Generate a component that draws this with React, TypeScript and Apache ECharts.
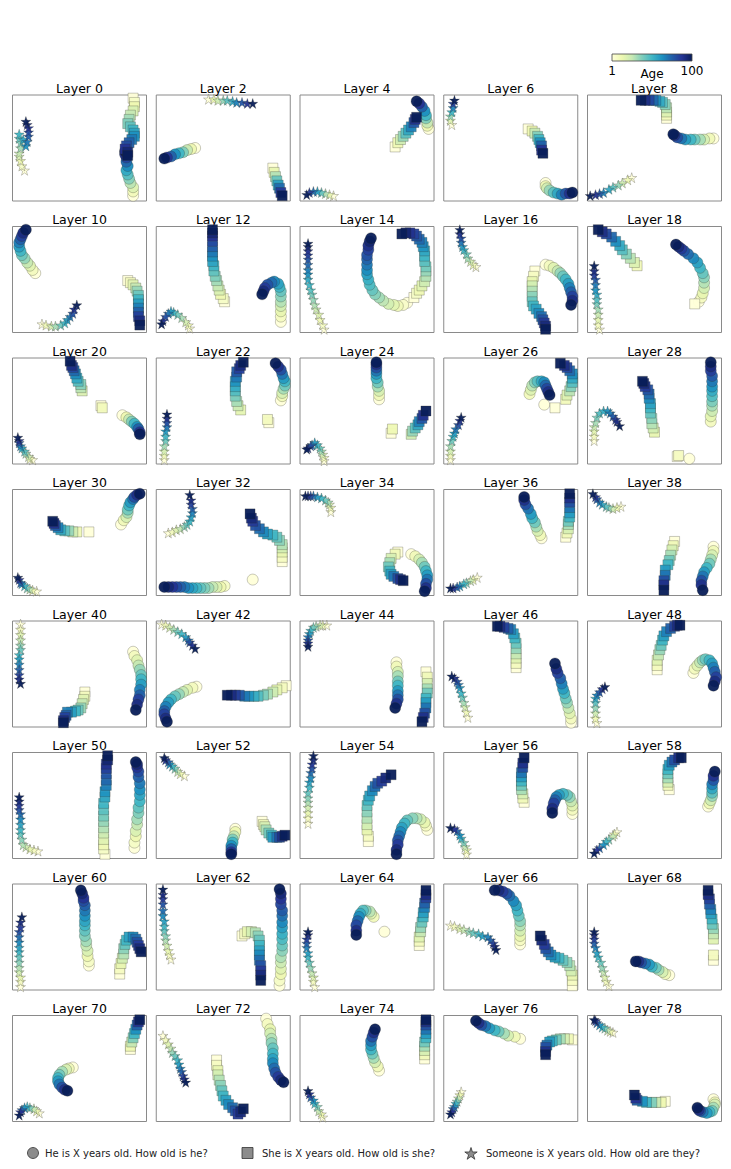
import React, { useEffect, useRef } from "react";
import * as echarts from "echarts";

type XY = [number, number];

const LAYERS = [0, 2, 4, 6, 8, 10, 12, 14, 16, 18, 20, 22, 24, 26, 28, 30, 32, 34, 36, 38,
  40, 42, 44, 46, 48, 50, 52, 54, 56, 58, 60, 62, 64, 66, 68, 70, 72, 74, 76, 78];

// Ages (1..100) of the points of a trajectory, listed for each trajectory length; points go from age 1 to age 100.
const AGE_TABLES: Record<number, number[]> = {
  5: [1, 26, 51, 75, 100],
  6: [1, 21, 41, 60, 80, 100],
  7: [1, 18, 34, 51, 67, 84, 100],
  8: [1, 15, 29, 43, 58, 72, 86, 100],
  9: [1, 13, 26, 38, 51, 63, 75, 88, 100],
  10: [1, 12, 23, 34, 45, 56, 67, 78, 89, 100],
  11: [1, 11, 21, 31, 41, 51, 60, 70, 80, 90, 100],
  12: [1, 10, 19, 28, 37, 46, 55, 64, 73, 82, 91, 100],
  13: [1, 9, 18, 26, 34, 42, 51, 59, 67, 75, 84, 92, 100],
  14: [1, 9, 16, 24, 31, 39, 47, 54, 62, 69, 77, 85, 92, 100],
  15: [1, 8, 15, 22, 29, 36, 43, 51, 58, 65, 72, 79, 86, 93, 100],
  16: [1, 8, 14, 21, 27, 34, 41, 47, 54, 60, 67, 74, 80, 87, 93, 100],
  17: [1, 7, 13, 20, 26, 32, 38, 44, 51, 57, 63, 69, 75, 81, 88, 94, 100],
  18: [1, 7, 13, 18, 24, 30, 36, 42, 48, 53, 59, 65, 71, 77, 83, 88, 94, 100],
  19: [1, 7, 12, 18, 23, 29, 34, 40, 45, 51, 56, 62, 67, 73, 78, 84, 89, 95, 100],
  20: [1, 6, 11, 17, 22, 27, 32, 37, 43, 48, 53, 58, 64, 69, 74, 79, 84, 90, 95, 100],
  21: [1, 6, 11, 16, 21, 26, 31, 36, 41, 46, 51, 55, 60, 65, 70, 75, 80, 85, 90, 95, 100],
  22: [1, 6, 10, 15, 20, 25, 29, 34, 39, 43, 48, 53, 58, 62, 67, 72, 76, 81, 86, 91, 95, 100],
  23: [1, 6, 10, 15, 19, 24, 28, 33, 37, 42, 46, 51, 55, 60, 64, 69, 73, 78, 82, 87, 91, 96, 100],
  24: [1, 5, 10, 14, 18, 23, 27, 31, 35, 40, 44, 48, 53, 57, 61, 66, 70, 74, 78, 83, 87, 91, 96, 100],
};

// "He is X years old. How old is he?"  (points from age 1 to age 100)
const CIRCLE_PATHS: XY[][] = [
  [[90,5],[90,9],[90,13],[88,17],[87,21],[86,25],[85,29],[86,33],[85,37],[85,41],[84,44],[84,47]],
  [[29,50],[26,49],[23,48],[20,46],[17,45],[14,44],[11,42],[8,41],[6,40]],
  [[96,68],[95,71],[95,74],[94,78],[94,81],[93,85],[91,89],[89,92],[87,94]],
  [[76,17],[76,14],[77,12],[79,10],[82,8],[85,7],[88,6],[91,7],[94,7],[96,8]],
  [[94,59],[91,59],[87,58],[84,58],[80,58],[77,58],[73,58],[70,59],[67,60],[65,62],[64,63]],
  [[17,56],[15,59],[13,63],[11,66],[9,70],[7,73],[6,77],[5,81],[5,85],[6,88],[7,91],[8,94],[10,97]],
  [[93,10],[93,15],[93,20],[93,25],[93,29],[93,34],[93,39],[92,43],[91,46],[88,48],[86,47],[83,45],[81,42],[80,39],[79,36]],
  [[80,28],[77,26],[73,25],[70,26],[66,27],[62,30],[59,33],[56,36],[54,40],[52,45],[51,50],[50,55],[50,59],[50,64],[50,69],[50,73],[51,78],[51,82],[52,86],[53,89]],
  [[76,64],[79,63],[82,61],[85,58],[87,56],[89,53],[91,50],[93,46],[94,42],[95,38],[96,34],[96,30],[95,26]],
  [[83,29],[85,33],[86,37],[87,42],[87,47],[87,52],[86,56],[84,61],[82,66],[79,70],[75,74],[72,77],[70,79],[68,81],[66,83]],
  [[82,46],[85,44],[87,42],[89,40],[91,38],[93,35],[94,33],[95,30],[95,28]],
  [[93,60],[94,64],[94,67],[95,71],[96,74],[96,78],[95,81],[94,85],[93,89],[91,92],[89,95]],
  [[59,61],[59,65],[59,69],[58,73],[58,77],[57,81],[57,85],[57,88],[57,91],[57,94],[57,96]],
  [[75,56],[64,66],[65,70],[66,74],[68,77],[70,78],[73,78],[75,77],[76,74],[77,71],[78,68],[79,65]],
  [[76,5],[92,40],[92,45],[93,50],[93,55],[93,59],[93,64],[93,69],[93,73],[93,78],[93,83],[92,88],[92,92],[92,96]],
  [[81,67],[83,71],[85,74],[86,78],[86,81],[87,85],[88,88],[90,91],[91,93],[93,95],[95,96]],
  [[72,15],[51,9],[48,8],[45,8],[42,8],[39,7],[36,7],[33,7],[30,7],[27,7],[24,7],[21,8],[18,8],[15,8],[12,8],[9,8],[6,8]],
  [[83,39],[86,37],[89,34],[91,31],[93,27],[94,23],[95,19],[95,15],[94,11],[94,7],[93,4]],
  [[73,54],[72,57],[70,61],[69,65],[68,69],[66,73],[65,77],[63,82],[61,86],[60,90],[60,93]],
  [[94,46],[94,42],[93,38],[92,34],[91,30],[89,26],[87,22],[86,18],[85,14],[85,10],[86,5]],
  [[90,71],[91,67],[93,63],[94,58],[95,54],[96,49],[96,45],[96,40],[95,35],[95,30],[94,26],[93,21],[92,16]],
  [[30,38],[27,37],[23,35],[20,33],[17,31],[14,29],[11,26],[9,23],[7,19],[6,15],[6,12],[7,8],[8,5]],
  [[72,61],[72,57],[73,52],[73,48],[73,43],[73,39],[73,34],[73,30],[73,26],[72,22],[71,18]],
  [[95,4],[95,8],[94,13],[93,18],[92,23],[91,27],[90,32],[89,36],[88,41],[87,46],[85,51],[84,55],[83,60]],
  [[79,51],[80,55],[82,58],[84,61],[86,63],[88,64],[91,63],[93,60],[94,56],[95,52],[96,47],[95,43],[94,39]],
  [[91,10],[91,15],[92,21],[92,26],[93,32],[93,37],[94,43],[94,48],[95,54],[95,60],[95,65],[95,71],[94,77],[94,82],[93,86],[93,89],[92,91]],
  [[59,28],[59,25],[58,21],[57,18],[57,15],[56,12],[56,9],[56,6],[56,4]],
  [[95,27],[94,31],[93,34],[90,37],[87,38],[84,38],[80,36],[78,33],[76,29],[75,25],[74,21],[73,17],[73,13],[72,8],[72,4]],
  [[96,42],[96,46],[96,50],[95,54],[94,58],[92,60],[89,61],[86,60],[84,58],[83,55],[82,52],[81,47],[81,43]],
  [[90,49],[91,52],[92,55],[93,59],[93,62],[93,66],[93,70],[94,74],[94,78],[95,82]],
  [[57,23],[57,27],[56,32],[56,37],[55,42],[55,46],[54,51],[54,56],[54,61],[54,65],[54,70],[54,75],[54,80],[53,84],[53,87],[52,91],[51,94]],
  [[92,4],[92,9],[93,15],[93,20],[93,26],[93,31],[94,37],[94,42],[94,48],[94,53],[94,59],[94,64],[94,70],[94,75],[93,81],[93,86],[93,91],[92,95]],
  [[63,55],[55,69],[53,72],[52,74],[49,75],[47,75],[45,72],[44,69],[43,65],[42,61],[42,56],[42,52]],
  [[57,43],[57,47],[57,51],[57,56],[57,61],[57,65],[56,70],[55,75],[54,80],[52,84],[49,89],[47,91],[44,93],[41,94],[38,94]],
  [[61,14],[58,15],[56,17],[53,19],[51,21],[48,22],[46,24],[43,25],[40,26],[38,27],[36,27]],
  [[45,51],[42,50],[40,49],[37,47],[35,44],[34,41],[34,38],[35,35],[37,32],[39,30],[41,29]],
  [[82,97],[83,92],[85,87],[85,83],[86,78],[86,74],[87,69],[87,64],[87,59],[87,55],[88,50],[89,46],[91,42],[93,39],[95,37]],
  [[59,48],[58,52],[56,56],[55,60],[54,64],[53,68],[53,72],[53,76],[54,80],[55,84],[56,87]],
  [[57,78],[53,80],[48,81],[45,83],[41,85],[38,86],[34,88],[31,90],[28,91],[26,93],[24,95]],
  [[94,21],[95,18],[95,16],[94,13],[93,10],[91,9],[89,8],[86,9],[84,10],[83,11],[82,13]],
];

// "She is X years old. How old is she?"
const SQUARE_PATHS: XY[][] = [
  [[90,97],[91,93],[91,89],[90,85],[88,81],[87,77],[86,73],[88,70],[90,67],[91,64],[91,61],[89,58],[87,55],[85,52],[84,49],[86,46],[86,43]],
  [[87,31],[88,27],[89,23],[90,19],[91,15],[92,12],[93,8],[94,5]],
  [[71,51],[73,55],[75,58],[77,61],[79,64],[81,67],[83,70],[85,74],[86,77],[87,79]],
  [[63,68],[66,66],[68,64],[70,61],[71,58],[72,55],[73,52],[73,48],[74,45]],
  [[59,78],[59,81],[59,84],[59,88],[58,91],[56,93],[54,94],[51,95],[49,95],[46,95],[43,95],[40,95]],
  [[86,49],[88,47],[90,45],[92,42],[93,39],[94,35],[94,31],[94,27],[94,23],[94,19],[94,15],[95,11],[95,7]],
  [[51,29],[50,32],[48,36],[47,40],[46,44],[45,49],[44,53],[43,58],[43,63],[42,67],[42,72],[42,76],[42,81],[42,86],[42,91],[42,94],[42,97]],
  [[85,33],[87,37],[89,40],[91,44],[93,48],[94,53],[94,58],[94,62],[93,67],[93,72],[93,77],[92,81],[91,85],[89,88],[87,91],[85,93],[82,94],[79,94],[76,93]],
  [[68,58],[67,53],[66,48],[66,44],[66,39],[66,34],[66,29],[67,25],[69,22],[71,18],[73,15],[74,12],[75,9],[76,6],[76,3]],
  [[80,27],[37,63],[35,66],[32,70],[29,74],[26,78],[24,82],[21,86],[18,90],[14,93],[11,95],[8,97]],
  [[66,55],[67,53],[52,69],[51,72],[51,75],[49,78],[48,81],[47,85],[46,88],[45,91],[44,93],[43,97]],
  [[84,39],[83,42],[63,51],[61,55],[60,59],[59,64],[59,69],[59,73],[59,78],[60,82],[60,87],[62,90],[63,93],[65,96]],
  [[68,29],[69,33],[83,28],[84,31],[86,34],[88,37],[89,40],[91,43],[92,46],[94,50]],
  [[83,53],[91,61],[92,65],[94,69],[95,73],[96,77],[96,81],[96,85],[94,88],[92,91],[90,93],[87,95]],
  [[67,7],[68,8],[50,30],[49,34],[48,38],[48,43],[47,48],[47,53],[47,57],[46,62],[46,66],[45,70],[43,73],[42,76],[41,78]],
  [[57,60],[48,60],[45,60],[42,61],[39,61],[36,62],[34,64],[32,66],[31,68],[30,70]],
  [[94,32],[94,36],[94,41],[94,45],[94,48],[92,52],[90,55],[87,57],[83,58],[80,60],[77,63],[74,66],[72,70],[71,73],[70,77]],
  [[73,41],[71,39],[68,35],[67,31],[66,27],[67,23],[68,20],[70,18],[73,16],[75,15],[77,14]],
  [[91,55],[92,59],[93,63],[93,67],[93,70],[94,74],[94,78],[94,83],[94,88],[94,92],[94,96]],
  [[65,51],[64,47],[63,43],[62,38],[61,33],[60,29],[58,24],[58,19],[57,14],[57,10],[57,5]],
  [[54,33],[54,29],[53,26],[52,22],[51,18],[49,16],[47,15],[44,14],[41,14],[40,11],[39,9],[38,6],[38,4]],
  [[97,39],[94,37],[90,35],[87,33],[83,31],[80,30],[76,29],[73,29],[69,29],[66,29],[62,30],[59,30],[56,30],[53,30]],
  [[94,52],[95,47],[95,41],[95,36],[95,32],[94,27],[94,23],[94,18],[93,13],[92,9],[91,5]],
  [[54,56],[54,60],[54,65],[54,69],[54,74],[54,79],[53,84],[52,88],[50,92],[48,93],[45,94],[42,95],[40,95]],
  [[52,54],[52,58],[52,63],[53,68],[54,73],[55,77],[56,82],[57,86],[59,90],[62,93],[65,95],[67,96],[69,96]],
  [[69,4],[68,9],[68,13],[68,18],[68,24],[68,29],[68,35],[68,40],[68,46],[68,52],[69,58],[69,63],[70,69],[70,74],[70,80],[70,85],[70,89],[71,93],[71,97]],
  [[79,35],[80,32],[81,30],[82,27],[84,24],[86,22],[87,20],[90,20],[92,20],[94,21],[96,22]],
  [[51,16],[51,21],[50,27],[50,32],[50,38],[50,44],[50,50],[51,55],[52,59],[54,64],[56,68],[58,71],[61,73],[64,76],[68,79]],
  [[60,53],[59,57],[59,61],[58,65],[58,69],[58,73],[58,77],[58,81],[59,86],[59,90],[60,95]],
  [[61,65],[60,69],[60,72],[60,76],[60,80],[60,84],[61,88],[63,91],[65,93],[68,95],[70,95]],
  [[80,15],[80,20],[81,25],[82,30],[83,34],[83,39],[84,43],[85,47],[87,50],[90,50],[92,48],[93,45],[94,42],[95,39],[96,36]],
  [[64,51],[66,53],[68,55],[71,55],[74,54],[76,51],[77,47],[77,42],[77,37],[77,33],[77,28],[78,23],[78,18],[78,14],[78,9]],
  [[89,42],[89,46],[89,50],[90,55],[90,59],[91,64],[92,69],[92,73],[93,78],[93,82],[94,87],[94,90],[94,94]],
  [[96,4],[96,9],[96,14],[95,18],[94,23],[92,26],[89,28],[86,30],[83,31],[80,33],[78,36],[76,39],[75,43],[73,47],[72,51]],
  [[94,28],[94,33],[94,48],[94,53],[94,58],[93,62],[93,67],[92,72],[92,76],[91,81],[91,86],[90,90],[90,94]],
  [[88,68],[88,71],[89,75],[90,79],[91,83],[92,87],[93,91],[94,94],[95,96]],
  [[45,58],[45,53],[46,48],[46,44],[47,39],[48,34],[49,29],[50,24],[52,20],[54,16],[57,13],[59,10],[61,7],[63,9],[65,12]],
  [[93,59],[93,63],[93,67],[93,71],[93,75],[94,79],[94,83],[94,87],[94,91],[94,94],[94,96]],
  [[96,77],[93,78],[90,78],[87,78],[84,77],[81,76],[79,75],[77,72],[76,70],[76,66],[76,63]],
  [[58,19],[55,18],[51,18],[48,18],[44,18],[41,19],[37,20],[36,22],[35,25]],
];

// "Someone is X years old. How old are they?"
const STAR_PATHS: XY[][] = [
  [[9,29],[7,33],[6,38],[5,42],[5,45],[6,50],[6,55],[5,59],[5,63],[8,58],[10,52],[11,56],[12,61],[12,65],[12,69],[11,72],[10,75]],
  [[39,96],[43,96],[46,95],[50,95],[53,95],[57,94],[60,93],[64,93],[68,92],[72,92]],
  [[25,5],[22,6],[19,7],[16,8],[13,9],[10,9],[7,8],[5,6]],
  [[6,72],[5,76],[5,80],[6,84],[7,88],[7,92],[8,95]],
  [[33,22],[30,20],[26,17],[23,15],[19,13],[16,11],[12,8],[9,7],[6,6],[2,5]],
  [[22,8],[25,7],[29,6],[32,6],[36,7],[39,9],[41,12],[43,15],[45,18],[46,22],[48,26]],
  [[25,4],[24,7],[22,10],[19,14],[16,17],[13,19],[11,20],[9,18],[7,15],[5,11],[4,8]],
  [[18,3],[17,7],[15,12],[14,17],[12,22],[11,26],[10,31],[9,36],[8,40],[7,45],[6,50],[6,55],[6,59],[6,64],[6,69],[6,73],[6,77],[6,81],[6,84]],
  [[24,62],[22,64],[20,67],[18,70],[17,74],[15,78],[14,81],[13,85],[13,89],[12,93],[12,97]],
  [[9,3],[8,7],[8,12],[8,17],[8,22],[7,27],[7,31],[7,36],[6,40],[6,45],[6,50],[5,54],[5,58],[5,63]],
  [[15,4],[13,5],[12,7],[10,10],[9,12],[7,15],[6,17],[5,20],[5,22],[4,25]],
  [[6,4],[6,8],[6,12],[6,17],[7,22],[7,26],[7,31],[8,35],[8,39],[8,43],[8,47]],
  [[18,3],[18,6],[17,9],[16,12],[15,15],[13,18],[11,20],[9,18],[8,17],[6,15],[5,14]],
  [[5,4],[5,8],[5,12],[5,17],[6,22],[7,26],[8,29],[9,33],[11,37],[12,41],[13,44]],
  [[5,22],[5,26],[5,31],[5,35],[6,39],[7,44],[9,48],[12,50],[15,50],[17,48],[19,45],[21,42],[22,40],[24,36]],
  [[18,4],[15,5],[13,6],[11,7],[9,9],[7,11],[6,12],[5,15],[4,17]],
  [[9,59],[12,60],[15,62],[18,63],[21,65],[23,67],[25,70],[26,74],[27,78],[27,82],[26,86],[26,90],[25,95]],
  [[23,79],[23,83],[22,86],[21,88],[19,90],[16,92],[13,93],[10,94],[8,94],[6,94],[4,94]],
  [[25,17],[22,15],[20,14],[17,12],[15,11],[12,9],[10,8],[7,7],[5,7]],
  [[25,84],[22,83],[19,82],[16,83],[14,84],[11,86],[9,88],[7,91],[6,93],[4,96]],
  [[6,97],[6,92],[6,87],[6,82],[6,77],[6,73],[5,68],[5,64],[5,59],[5,54],[5,49],[5,45],[6,41]],
  [[4,97],[7,96],[10,94],[13,92],[16,90],[19,88],[22,85],[24,82],[25,80],[27,77],[29,74]],
  [[20,96],[17,96],[15,96],[12,95],[10,94],[8,91],[7,88],[6,85],[6,82],[6,79],[6,76]],
  [[18,9],[17,14],[16,19],[15,23],[14,28],[13,32],[12,37],[11,40],[10,43],[8,46],[6,48]],
  [[7,4],[6,8],[6,13],[6,18],[6,23],[6,27],[7,30],[9,33],[11,36],[13,38]],
  [[19,7],[16,8],[13,9],[10,11],[8,13],[7,18],[6,23],[6,27],[6,32],[6,37],[6,42],[5,46],[5,50],[5,54],[5,58]],
  [[21,78],[18,80],[16,82],[14,85],[12,87],[10,89],[9,91],[7,93],[6,95]],
  [[6,33],[6,38],[6,43],[6,48],[6,53],[6,57],[6,62],[7,67],[7,72],[8,76],[8,81],[9,85],[9,89],[10,93],[10,97]],
  [[17,4],[17,8],[16,11],[15,15],[13,19],[12,22],[10,26],[8,28],[5,29]],
  [[22,25],[20,23],[19,21],[16,18],[14,16],[12,13],[9,10],[7,8],[5,5]],
  [[6,3],[6,8],[6,12],[5,17],[5,21],[5,26],[5,31],[5,36],[5,40],[5,45],[5,50],[5,55],[6,59],[6,64],[7,69]],
  [[11,29],[10,33],[9,37],[8,42],[7,47],[7,51],[6,56],[6,60],[6,65],[5,70],[5,75],[5,81],[5,86],[5,90],[5,95]],
  [[11,3],[10,8],[10,12],[9,16],[8,21],[7,26],[6,31],[6,35],[5,40],[5,44],[5,48],[6,52],[6,55]],
  [[5,61],[8,60],[12,58],[15,57],[19,55],[22,54],[26,53],[29,51],[33,50],[35,47],[37,44],[38,41],[39,38]],
  [[16,4],[14,8],[13,12],[12,17],[11,21],[10,26],[8,31],[7,35],[6,40],[5,44],[5,48],[5,52],[5,55]],
  [[20,8],[18,10],[16,12],[13,13],[11,14],[9,13],[7,11],[6,9],[5,6]],
  [[5,81],[7,77],[9,73],[11,69],[12,65],[14,62],[16,58],[17,54],[18,50],[19,47],[20,43],[21,40],[22,37]],
  [[17,4],[16,7],[14,10],[13,14],[11,17],[10,20],[8,23],[7,26],[6,29]],
  [[13,28],[12,25],[11,22],[10,19],[9,17],[8,14],[7,12],[6,9],[5,7]],
  [[19,84],[17,85],[15,86],[13,88],[11,89],[9,91],[7,93],[6,95],[5,96]],
];

const AGE_MIN = 1;
const AGE_MAX = 100;
const AGE_TICKS = ["1", "100"];
const AGE_LABEL = "Age";
const LEGEND_LABELS = [
  "He is X years old. How old is he?",
  "She is X years old. How old is she?",
  "Someone is X years old. How old are they?",
];
const YLGNBU = ["#ffffd9", "#edf8b1", "#c7e9b4", "#7fcdbb", "#41b6c4", "#1d91c0", "#225ea8", "#253494", "#081d58"];

const FONT = "DejaVu Sans";
const STAR_PTS: [number, number][] = [
  [0, -100], [22, -31], [95, -31], [36, 12], [59, 81], [0, 38], [-59, 81], [-36, 12], [-95, -31], [-22, -31],
];
const STAR_SYMBOL = "path://" + STAR_PTS.map((p, i) => (i === 0 ? "M" : "L") + p[0] + "," + p[1]).join("") + "Z";

const PANEL_W = 134;
const PANEL_H = 106;
const COL_X0 = 12.5;
const COL_DX = 143.75;
const ROW_Y0 = 95;
const ROW_DY = 131.5;

function withAges(path: XY[]): number[][] {
  const ages = AGE_TABLES[path.length] || AGE_TABLES[24];
  return path.map((p, k) => [p[0], p[1], ages[Math.min(k, ages.length - 1)]]);
}

export default function App() {
  const ref = useRef<HTMLDivElement>(null);
  useEffect(() => {
    if (!ref.current) return;
    const chart = echarts.init(ref.current, undefined, { renderer: "svg" });
    const grids: any[] = [];
    const xAxes: any[] = [];
    const yAxes: any[] = [];
    const series: any[] = [];
    const graphics: any[] = [];
    const edge = { borderColor: "rgba(45,45,35,0.55)", borderWidth: 0.5, opacity: 0.95 };
    LAYERS.forEach((layer, i) => {
      const col = i % 5;
      const row = Math.floor(i / 5);
      const left = COL_X0 + col * COL_DX;
      const top = ROW_Y0 + row * ROW_DY;
      grids.push({ left, top, width: PANEL_W, height: PANEL_H, show: true, borderColor: "#8a8a8a", borderWidth: 1, backgroundColor: "#fff" });
      xAxes.push({ type: "value", gridIndex: i, min: 0, max: 100, show: false });
      yAxes.push({ type: "value", gridIndex: i, min: 0, max: 100, show: false });
      series.push({ type: "scatter", xAxisIndex: i, yAxisIndex: i, data: withAges(CIRCLE_PATHS[i]), symbol: "circle", symbolSize: 11, itemStyle: edge });
      series.push({ type: "scatter", xAxisIndex: i, yAxisIndex: i, data: withAges(SQUARE_PATHS[i]), symbol: "rect", symbolSize: 10, itemStyle: edge });
      series.push({ type: "scatter", xAxisIndex: i, yAxisIndex: i, data: withAges(STAR_PATHS[i]), symbol: STAR_SYMBOL, symbolSize: 10, itemStyle: edge });
      graphics.push({
        type: "text", x: left + PANEL_W / 2, y: top - 7,
        style: { text: "Layer " + layer, fontFamily: FONT, fontSize: 12.5, fill: "#000", textAlign: "center", textVerticalAlign: "middle" },
      });
    });
    // colorbar
    graphics.push({
      type: "rect", shape: { x: 612, y: 54, width: 80, height: 7 },
      style: {
        fill: new echarts.graphic.LinearGradient(0, 0, 1, 0, YLGNBU.map((c, k) => ({ offset: k / (YLGNBU.length - 1), color: c }))),
        stroke: "#444", lineWidth: 0.8,
      },
    });
    graphics.push({ type: "text", x: 612, y: 71, style: { text: AGE_TICKS[0], fontFamily: FONT, fontSize: 12, fill: "#000", textAlign: "center", textVerticalAlign: "middle" } });
    graphics.push({ type: "text", x: 692, y: 71, style: { text: AGE_TICKS[1], fontFamily: FONT, fontSize: 12, fill: "#000", textAlign: "center", textVerticalAlign: "middle" } });
    graphics.push({ type: "text", x: 652, y: 73.5, style: { text: AGE_LABEL, fontFamily: FONT, fontSize: 12, fill: "#000", textAlign: "center", textVerticalAlign: "middle" } });
    // legend
    const ly = 1153;
    const mk = { fill: "#8c8c8c", stroke: "#333", lineWidth: 0.8 };
    graphics.push({ type: "circle", shape: { cx: 33, cy: ly, r: 5.5 }, style: mk });
    graphics.push({ type: "rect", shape: { x: 242, y: ly - 5.5, width: 11, height: 11 }, style: mk });
    graphics.push({ type: "polygon", shape: { points: STAR_PTS.map((p) => [471 + p[0] * 0.065, ly + 1 + p[1] * 0.065]) }, style: mk });
    const lx = [45, 262, 486];
    LEGEND_LABELS.forEach((t, k) => {
      graphics.push({ type: "text", x: lx[k], y: ly, style: { text: t, fontFamily: FONT, fontSize: 10, fill: "#222", textAlign: "left", textVerticalAlign: "middle" } });
    });

    chart.setOption({
      animation: false,
      backgroundColor: "#fff",
      grid: grids,
      xAxis: xAxes,
      yAxis: yAxes,
      visualMap: { type: "continuous", show: false, dimension: 2, min: AGE_MIN, max: AGE_MAX, inRange: { color: YLGNBU } },
      series,
      graphic: graphics,
    });
    return () => chart.dispose();
  }, []);
  return <div ref={ref} style={{ position: "absolute", left: 0, top: 0, width: 731, height: 1169 }} />;
}
